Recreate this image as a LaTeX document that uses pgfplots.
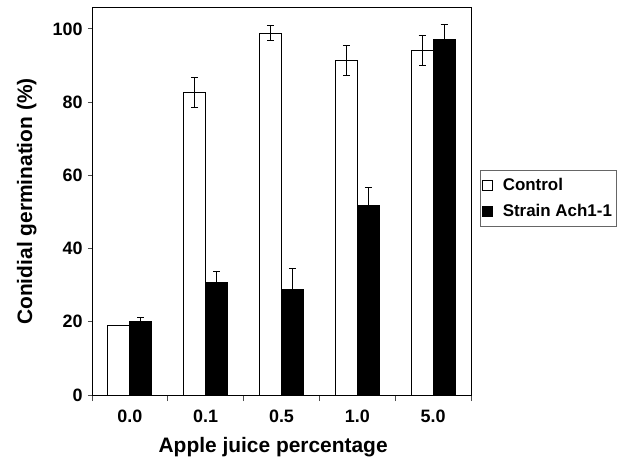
\documentclass[border=0pt]{standalone}
\usepackage{pgfplots}
\pgfplotsset{compat=1.18}
\usepackage{fontspec}
\setmainfont{Liberation Sans}
\begin{document}
\begin{tikzpicture}
\useasboundingbox (-92bp,-66bp) rectangle (540bp,395bp);
\begin{axis}[
  at={(0,0)}, anchor=south west,
  scale only axis, width=379bp, height=387bp,
  ybar=0pt, bar width=22bp,
  xmin=-0.5, xmax=4.5, ymin=0, ymax=105.7,
  xtick={0,1,2,3,4}, xticklabels={0.0,0.1,0.5,1.0,5.0},
  major x tick style={draw=none},
  minor xtick={-0.5,0.5,1.5,2.5,3.5,4.5},
  minor tick length=6bp,
  ytick={0,20,40,60,80,100}, yticklabels={0,20,40,60,80,100},
  major tick length=4bp,
  tick align=outside, tick pos=left,
  tick style={black!70, line width=0.8pt},
  axis line style={black, line width=1pt},
  ticklabel style={font=\fontsize{18}{20}\selectfont\bfseries},
  xticklabel style={yshift=-7bp},
  yticklabel style={xshift=-2bp},
  ylabel={Conidial germination (\%)},
  xlabel={Apple juice percentage},
  label style={font=\fontsize{21}{24}\selectfont\bfseries},
  ylabel style={at={(axis description cs:0,0.5)}, anchor=south, yshift=52bp},
  xlabel style={at={(axis description cs:0.478,0)}, anchor=base, yshift=-57bp},
  legend style={at={(1.024,0.581)}, anchor=north west, draw=black!60, line width=0.8pt,
    font=\fontsize{17}{19}\selectfont\bfseries, inner xsep=2bp, inner ysep=6bp, row sep=8bp},
  legend image code/.code={\draw[#1, line width=0.6pt] (0bp,-5bp) rectangle (10bp,5bp); \path[draw=none, fill=none] (0bp,0bp) -- (18bp,0bp);},
  legend cell align=left,
]
\addplot[draw=black, fill=white, line width=1pt,
  error bars/.cd, y dir=both, y explicit,
  error bar style={black, line width=1pt},
  error mark options={rotate=90, mark size=3.5bp, black, line width=1pt}]
  coordinates {(0,19) +- (0,0) (1,82.5) +- (0,4.1) (2,98.8) +- (0,2.1) (3,91.4) +- (0,4.1) (4,94.1) +- (0,4.0)};
\addplot[draw=black, fill=black, line width=1pt,
  error bars/.cd, y dir=plus, y explicit,
  error bar style={black, line width=1pt},
  error mark options={rotate=90, mark size=3.5bp, black, line width=1pt}]
  coordinates {(0,20.2) +- (0,1.1) (1,30.7) +- (0,3.0) (2,28.7) +- (0,5.8) (3,51.7) +- (0,4.9) (4,97.2) +- (0,3.9)};
\legend{Control, Strain Ach1-1}
\end{axis}
\end{tikzpicture}
\end{document}
